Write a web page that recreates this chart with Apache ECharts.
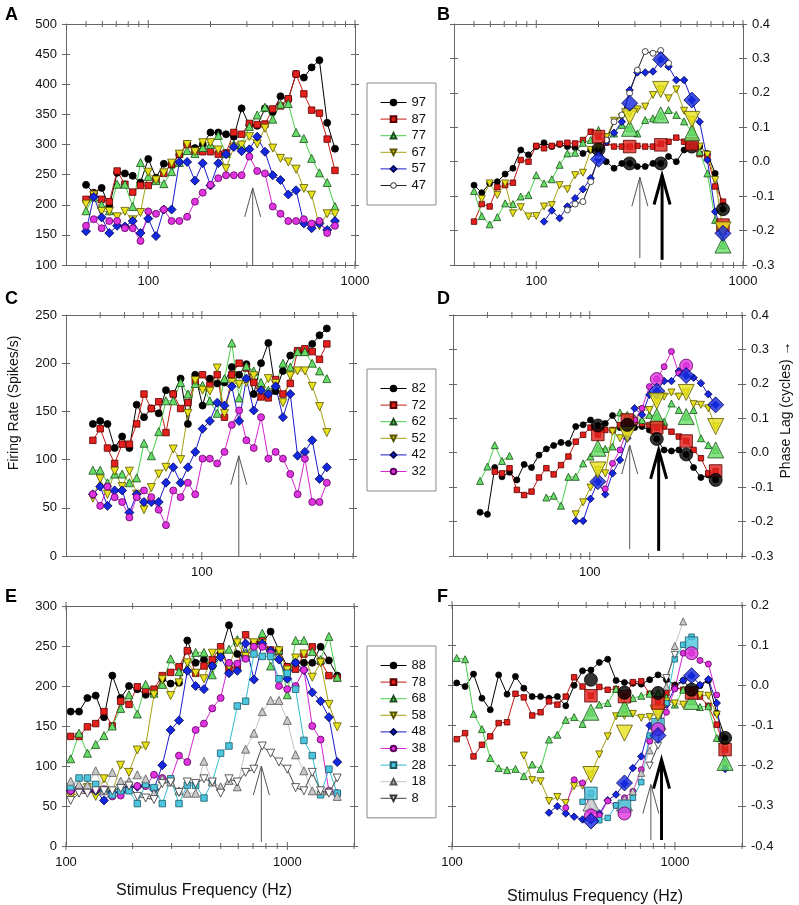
<!DOCTYPE html>
<html><head><meta charset="utf-8">
<script src="https://cdn.jsdelivr.net/npm/echarts@6/dist/echarts.min.js"></script>
<style>html,body{margin:0;padding:0;background:#fff}#c{width:799px;height:905px}</style>
</head><body><div id="c"></div>
<script>
// ---------- frequencies (Hz) ----------
const freqAB = [50,54.5,59.5,64.8,70.7,77.1,84.1,91.7,100,109,118.9,129.7,141.4,154.2,168.2,183.4,200,218.1,237.8,259.4,282.8,308.4,336.4,366.8,400,436.2,475.7,518.8,565.7,616.9,672.7,733.6,800];
const freqCD = [27.5,30,32.7,35.6,38.9,42.4,46.2,50.4,55,60,65.4,71.3,77.8,84.8,92.5,100.9,110,120,130.8,142.7,155.6,169.6,185,201.8,220,239.9,261.6,285.3,311.1,339.3,370,403.5,440];
const freqEF = [105,114.5,124.9,136.2,148.5,161.9,176.6,192.6,210,229,249.7,272.3,297,323.9,353.2,385.2,420,458,499.5,544.7,594,647.8,706.4,770.4,840,916,998.9,1089.3,1188,1295.5,1412.8,1540.7,1680];
const bigAB = [200,282.8,400,565.7,800];
const bigCD = [110,155.6,220,311.1,440];
const bigEF = [420,594,840,1188,1680];
const N = null;

// ---------- Panel A: firing rate ----------
const rateA97 = [233,220,228,197,253,252,248,237,276,245,268,266,283,301,294,300,320,320,317,313,360,332,331,360,354,380,375,417,411,428,440,336,293];
const rateA87 = [209,218,209,205,256,234,221,232,232,241,252,267,284,300,288,288,288,284,286,320,317,335,333,334,359,364,376,417,384,357,352,309,257];
const rateA77 = [190,213,200,190,234,234,197,270,247,240,235,255,270,290,285,295,300,315,285,300,300,330,349,362,342,367,368,320,310,277,253,237,197];
const rateA67 = [201,216,189,189,180,189,175,187,254,241,253,269,284,300,288,303,303,291,260,296,299,313,301,327,294,277,271,259,227,216,165,185,185];
const rateA57 = [156,213,179,153,165,164,173,153,177,148,192,192,271,271,240,269,232,269,284,296,289,292,313,288,249,241,217,224,169,161,169,158,173];
const rateA47 = [165,176,161,173,173,161,161,140,189,185,192,173,173,180,205,220,233,244,249,249,249,280,256,252,197,185,173,173,176,169,173,153,165];

// ---------- Panel B: phase lag ----------
const phB97 = [-0.068,-0.09,-0.063,-0.058,-0.036,-0.019,0.034,0.02,0.044,0.055,0.044,0.05,0.044,0.041,0.024,0.034,0.034,0.0,-0.019,-0.005,-0.005,-0.014,-0.014,-0.005,-0.005,0.015,0.0,0.034,0.044,0.044,0.024,-0.034,-0.138];
const phB87 = [-0.174,-0.123,-0.13,-0.074,-0.068,-0.061,0.005,0.0,0.046,0.039,0.046,0.052,0.055,0.053,0.063,0.087,0.073,0.055,0.044,0.044,0.044,0.046,0.044,0.044,0.052,0.058,0.07,0.058,0.044,0.022,0.015,-0.072,-0.116];
const phB77 = [-0.085,-0.158,-0.182,-0.161,-0.121,-0.123,-0.101,-0.097,-0.039,-0.063,-0.051,-0.009,0.024,0.026,0.055,0.063,0.092,0.073,0.082,0.107,0.097,0.082,0.121,0.126,0.134,0.15,0.136,0.117,0.087,0.029,-0.034,-0.169,-0.242];
const phB67 = [N,-0.108,-0.063,-0.097,-0.063,-0.15,-0.132,-0.159,-0.158,-0.13,-0.126,-0.068,-0.08,-0.039,-0.032,0.034,0.044,0.071,0.119,0.129,0.14,0.152,0.16,0.194,0.21,0.184,0.21,0.148,0.121,0.044,0.02,-0.053,-0.198];
const phB57 = [N,N,N,N,N,N,N,N,N,-0.174,-0.142,-0.164,-0.13,-0.106,-0.08,-0.048,0.007,0.058,0.084,0.116,0.208,0.259,0.259,0.262,0.297,0.276,0.237,0.237,0.179,0.116,0.005,-0.145,-0.208];
const phB47 = [N,N,N,N,N,N,N,N,N,N,N,N,-0.14,-0.123,-0.116,-0.058,0.015,0.063,0.116,0.136,0.199,0.266,0.32,0.315,0.323,0.286,N,N,N,N,N,N,N];
const bigB97 = [0.036,-0.005,-0.005,0.044,-0.138];
const bigB87 = [0.073,0.044,0.049,0.052,-0.184];
const bigB77 = [N,0.097,0.136,0.084,-0.242];
const bigB67 = [N,0.131,0.21,0.123,-0.198];
const bigB57 = [0.007,0.17,0.297,0.179,-0.208];

// ---------- Panel C: firing rate ----------
const rateC82 = [137,140,137,112,124,112,157,144,153,148,172,168,184,137,188,156,184,179,180,196,188,199,168,200,221,171,192,208,212,212,220,229,236];
const rateC72 = [120,132,112,96,116,116,137,168,153,160,128,168,153,159,181,188,177,188,144,188,200,195,180,165,164,183,168,179,213,215,212,204,220];
const rateC62 = [89,89,76,85,85,76,81,117,104,129,161,161,180,168,179,177,161,148,184,221,164,197,192,180,172,178,200,196,212,212,200,192,184];
const rateC52 = [60,80,64,88,72,88,64,48,71,85,92,111,100,148,182,172,171,195,148,180,178,180,187,171,184,179,159,187,192,192,176,155,128];
const rateC42 = [64,72,52,68,68,45,64,56,56,56,76,92,76,92,108,132,140,159,156,176,140,184,151,172,168,176,144,168,104,108,120,80,92];
const rateC32 = [64,52,72,61,56,40,61,68,61,48,32,68,61,76,64,101,101,96,108,136,151,120,112,144,101,108,101,85,64,101,56,56,76];

// ---------- Panel D: phase lag ----------
const phD82 = [-0.173,-0.179,-0.043,-0.07,-0.057,-0.079,-0.034,-0.043,-0.007,0.011,0.021,0.03,0.027,0.076,0.081,0.095,0.079,0.085,0.108,0.073,0.081,0.073,0.076,0.066,0.04,0.008,0.005,0.008,-0.005,-0.043,-0.072,-0.065,-0.079];
const phD72 = [N,N,-0.055,-0.06,-0.045,-0.108,-0.123,-0.113,-0.072,-0.045,-0.063,-0.036,-0.011,0.032,0.052,0.073,0.053,0.066,0.066,0.08,0.095,0.09,0.085,0.08,0.073,0.076,0.061,0.047,0.034,0.008,-0.016,-0.06,-0.053];
const phD62 = [-0.082,-0.04,0.022,-0.024,-0.009,N,N,N,N,-0.13,-0.125,-0.154,-0.07,-0.07,-0.031,-0.011,0.013,0.011,0.018,0.117,0.11,0.1,0.095,0.11,0.105,0.09,0.143,0.124,0.105,0.124,0.042,0.022,0.008];
const phD52 = [N,N,N,N,N,N,N,N,N,N,N,N,N,-0.179,-0.144,-0.101,-0.05,-0.06,0.061,0.042,0.053,0.092,0.124,0.124,0.15,0.163,0.175,0.163,0.175,0.141,0.139,0.129,0.076];
const phD42 = [N,N,N,N,N,N,N,N,N,N,N,N,N,-0.198,-0.198,-0.134,-0.084,-0.121,-0.06,-0.021,0.042,0.129,0.11,0.168,0.179,0.208,0.208,0.237,0.224,0.218,0.202,0.17,0.139];
const phD32 = [N,N,N,N,N,N,N,N,N,N,N,N,N,N,N,N,N,-0.105,-0.031,0.008,0.069,0.095,0.129,0.192,0.214,0.25,0.294,0.231,0.253,N,N,N,N];
const bigD82 = [0.079,0.081,0.04,-0.005,-0.079];
const bigD72 = [0.053,0.095,0.073,0.034,-0.053];
const bigD62 = [0.013,N,0.105,0.105,0.008];
const bigD52 = [-0.05,0.053,0.15,0.175,0.076];
const bigD42 = [-0.084,N,0.179,0.224,0.139];
const bigD32 = [N,N,0.214,0.253,N];

// ---------- Panel E: firing rate ----------
const rateE88 = [168,168,185,188,161,213,185,200,196,189,191,209,203,204,257,229,233,225,241,276,240,237,254,253,268,245,224,229,229,229,249,232,213];
const rateE78 = [137,137,149,153,168,150,181,177,199,195,196,213,217,224,244,216,225,233,249,222,224,264,254,257,245,243,224,221,240,249,231,213,210];
const rateE68 = [109,141,116,127,138,150,172,189,165,202,191,202,234,218,222,242,242,214,241,246,258,241,254,266,225,245,189,257,257,243,233,262,211];
const rateE58 = [62,67,73,62,84,67,101,92,120,125,189,208,188,204,229,216,209,241,241,224,254,237,254,253,241,244,220,235,240,211,229,177,149];
const rateE48 = [69,73,69,69,57,67,67,73,74,76,71,101,145,157,219,200,196,225,236,216,219,253,208,253,244,233,209,229,220,192,181,161,105];
const rateE38 = [69,71,69,71,71,62,63,71,75,75,89,85,83,113,105,145,153,172,185,229,228,234,249,249,241,200,196,200,220,150,133,69,66];
const rateE28 = [74,85,85,77,69,64,69,69,53,77,73,53,84,53,76,76,60,80,116,125,175,181,240,237,237,209,216,196,132,113,64,96,66];
const rateE18 = [81,77,76,94,69,92,81,81,89,84,66,84,80,69,66,66,106,80,74,82,74,121,141,168,182,182,157,114,94,69,69,69,62];
const rateE8  = [57,66,66,69,69,69,72,75,62,60,58,78,80,67,80,78,84,80,66,84,80,92,96,125,116,105,96,73,69,92,69,66,85];

// ---------- Panel F: phase lag ----------
const phF88 = [0.006,-0.003,0.028,-0.032,-0.061,0.026,-0.022,0.022,-0.007,-0.028,-0.028,-0.032,-0.028,-0.051,0.0,0.036,0.038,0.057,0.065,0.012,0.007,0.005,0.003,0.014,0.026,0.014,0.001,0.012,-0.011,-0.001,0.012,-0.069,-0.131];
const phF78 = [-0.134,-0.119,-0.177,-0.148,-0.127,-0.094,-0.092,-0.021,-0.03,-0.075,-0.067,-0.04,-0.048,-0.028,0.02,-0.003,-0.026,-0.004,-0.011,-0.009,-0.028,0.008,0.01,-0.021,-0.044,-0.02,-0.005,-0.011,-0.019,-0.028,-0.051,-0.098,-0.16];
const phF68 = [0.068,0.065,-0.071,-0.109,-0.181,-0.206,-0.211,-0.208,-0.226,-0.197,-0.208,-0.135,-0.123,-0.086,-0.079,-0.096,-0.067,-0.048,-0.044,-0.009,-0.057,-0.032,-0.026,-0.021,-0.019,-0.03,-0.048,-0.011,-0.04,-0.054,-0.052,-0.131,-0.192];
const phF58 = [N,N,N,N,N,N,N,N,-0.175,-0.236,-0.239,-0.288,-0.278,-0.293,-0.251,-0.25,-0.222,-0.172,-0.127,-0.077,-0.076,-0.071,-0.081,-0.079,-0.069,-0.04,-0.045,-0.048,-0.026,-0.024,-0.026,-0.073,-0.15];
const phF48 = [N,N,N,N,N,N,N,N,N,N,N,-0.317,-0.301,-0.319,-0.327,-0.334,-0.336,-0.319,-0.286,-0.272,-0.245,-0.206,-0.177,-0.1,-0.092,-0.048,-0.007,0.012,0.024,0.001,0.015,-0.044,-0.208];
const phF38 = [N,N,N,N,N,N,N,N,N,N,N,N,N,-0.305,-0.235,-0.243,-0.313,-0.324,-0.288,-0.299,-0.28,-0.264,-0.21,-0.139,-0.109,-0.067,-0.009,0.08,0.08,0.062,0.053,-0.024,N];
const phF28 = [N,N,N,N,N,N,N,N,N,N,N,N,N,N,N,-0.29,-0.269,-0.336,-0.33,-0.299,-0.301,-0.28,-0.241,-0.125,-0.098,-0.044,0.065,0.101,0.121,N,N,N,N];
const phF18 = [N,N,N,N,N,N,N,N,N,N,N,N,N,N,N,N,N,N,N,N,-0.3,-0.264,-0.218,-0.162,-0.106,-0.003,0.098,0.159,N,N,N,N,N];
const phF8  = [N,N,N,N,N,N,N,N,N,N,N,N,N,N,N,N,N,N,N,N,N,N,N,-0.2,-0.15,0.018,0.076,N,N,N,N,N,N];
const bigF88 = [0.014,-0.018,-0.019,-0.011,-0.131];
const bigF78 = [-0.026,-0.028,-0.044,-0.019,-0.16];
const bigF68 = [-0.067,-0.057,N,-0.04,-0.192];
const bigF58 = [-0.222,-0.119,-0.069,N,N];
const bigF48 = [-0.338,-0.243,-0.125,0.024,N];
const bigF38 = [-0.324,-0.319,-0.109,0.08,N];
const bigF28 = [-0.269,-0.301,-0.098,0.105,N];
const bigF18 = [-0.293,-0.293,-0.09,N,N];

// ---------- arrows: [freq, base, tip, lineWidth] ----------
const arrowsA = [[320,100,228,1]];
const arrowsB = [[317,-0.28,-0.045,1],[406,-0.285,-0.04,3]];
const arrowsC = [[155,0,104,1]];
const arrowsD = [[160,-0.28,0.022,1],[225,-0.285,0.008,3]];
const arrowsE = [[763,5,100,1]];
const arrowsF = [[780,-0.385,-0.247,1],[871,-0.385,-0.185,3]];

// ---------- tick labels / tick positions ----------
const ticksAB = [50,60,70,80,90,100,200,300,400,500,600,700,800,900,1000];
const ticksCD = [30,40,50,60,70,80,90,100,200,300,400,500,600];
const ticksEF = [100,200,300,400,500,600,700,800,900,1000,2000];
const legendA = ['97','87','77','67','57','47'];
const legendC = ['82','72','62','52','42','32'];
const legendE = ['88','78','68','58','48','38','28','18','8'];

const FONT = '"Liberation Sans", Arial, Helvetica, sans-serif';
const STY = {
  black:  {fill:'#000000', border:'#000000', line:'#000000', symbol:'circle'},
  red:    {fill:'#e3201b', border:'#5a0000', line:'#c41a14', symbol:'rect'},
  green:  {fill:'#66dd66', border:'#1c4d1c', line:'#48d048', symbol:'triangle'},
  yellow: {fill:'#e8e21c', border:'#5a5600', line:'#a8a014', symbol:'triangle', rotate:180},
  blue:   {fill:'#1428e0', border:'#000050', line:'#1a1acc', symbol:'diamond'},
  magenta:{fill:'#e034e0', border:'#600060', line:'#d424d4', symbol:'circle'},
  white:  {fill:'#ffffff', border:'#222222', line:'#222222', symbol:'circle'},
  cyan:   {fill:'#4cc6de', border:'#1c5a68', line:'#30bcd0', symbol:'rect'},
  gray:   {fill:'#c8c8c8', border:'#555555', line:'#c4c4c4', symbol:'triangle'},
  wdown:  {fill:'#ffffff', border:'#333333', line:'#444444', symbol:'triangle', rotate:180}
};
const SIZES = {
  small:{circle:7, rect:6.5, triangle:8, diamond:9},
  tiny:{circle:6, rect:5.5, triangle:7, diamond:7.5},
  big:{circle:13, rect:12.5, triangle:16, diamond:16}
};

const series = [];
function addLine(name, g, xs, ys, st, kind) {
  series.push({
    name, type:'line', xAxisIndex:2*g, yAxisIndex:4*g,
    data: xs.map((x,i)=>[x, ys[i]==null ? '-' : ys[i]]),
    symbol: st.symbol, symbolRotate: st.rotate||0, symbolSize: SIZES[kind][st.symbol],
    showSymbol:true, showAllSymbol:true, connectNulls:false,
    lineStyle:{color:st.line, width:1},
    itemStyle:{color:st.fill, borderColor:st.border, borderWidth:0.8},
    emphasis:{disabled:true}, z:3, silent:true
  });
}
function addBig(name, g, xs, ys, st) {
  series.push({
    name, type:'scatter', xAxisIndex:2*g, yAxisIndex:4*g,
    data: xs.map((x,i)=> ys[i]==null ? null : [x, ys[i]]).filter(d=>d),
    symbol: st.symbol, symbolRotate: st.rotate||0, symbolSize: SIZES.big[st.symbol],
    itemStyle:{color:st.fill, borderColor:st.border, borderWidth:1},
    emphasis:{disabled:true}, z:5, silent:true
  });
}
function addArrows(g, rows) {
  series.push({
    type:'custom', xAxisIndex:2*g, yAxisIndex:4*g, data: rows, z:6, silent:true, clip:false,
    renderItem(params, api) {
      const b = api.coord([api.value(0), api.value(1)]);
      const t = api.coord([api.value(0), api.value(2)]);
      const w = api.value(3);
      const col = w > 1 ? '#000' : '#555';
      return {type:'group', children:[
        {type:'line', shape:{x1:b[0], y1:b[1], x2:t[0], y2:t[1]}, style:{stroke:col, lineWidth:w}},
        {type:'polyline', shape:{points:[[t[0]-8,t[1]+29],[t[0],t[1]],[t[0]+8,t[1]+29]]}, style:{stroke:col, lineWidth:w, fill:null}}
      ]};
    }
  });
}
function addTicks(g, ticks, yRef) {
  series.push({
    type:'custom', xAxisIndex:2*g, yAxisIndex:4*g, data: ticks.map(v=>[v, yRef]), z:2, silent:true, clip:false,
    renderItem(params, api) {
      const cs = params.coordSys;
      const v = api.value(0);
      const x = api.coord([v, api.value(1)])[0];
      const major = Math.abs(Math.log10(v) - Math.round(Math.log10(v))) < 1e-6;
      const L = major ? 4 : 3;
      const yb = cs.y + cs.height, yt = cs.y;
      const st = {stroke:'#666', lineWidth:1};
      return {type:'group', children:[
        {type:'line', shape:{x1:x, y1:yb-L, x2:x, y2:yb+L}, style:st},
        {type:'line', shape:{x1:x, y1:yt-L, x2:x, y2:yt+L}, style:st}
      ]};
    }
  });
}

// Panel A
addLine('97',0,freqAB,rateA97,STY.black,'small');
addLine('87',0,freqAB,rateA87,STY.red,'small');
addLine('77',0,freqAB,rateA77,STY.green,'small');
addLine('67',0,freqAB,rateA67,STY.yellow,'small');
addLine('57',0,freqAB,rateA57,STY.blue,'small');
addLine('47',0,freqAB,rateA47,STY.magenta,'small');
// Panel B
addLine('97',1,freqAB,phB97,STY.black,'tiny');
addLine('87',1,freqAB,phB87,STY.red,'tiny');
addLine('77',1,freqAB,phB77,STY.green,'tiny');
addLine('67',1,freqAB,phB67,STY.yellow,'tiny');
addLine('57',1,freqAB,phB57,STY.blue,'tiny');
addLine('47',1,freqAB,phB47,STY.white,'tiny');
addBig('B97',1,bigAB,bigB97,STY.black);
addBig('B87',1,bigAB,bigB87,STY.red);
addBig('B77',1,bigAB,bigB77,STY.green);
addBig('B67',1,bigAB,bigB67,STY.yellow);
addBig('B57',1,bigAB,bigB57,STY.blue);
// Panel C
addLine('82',2,freqCD,rateC82,STY.black,'small');
addLine('72',2,freqCD,rateC72,STY.red,'small');
addLine('62',2,freqCD,rateC62,STY.green,'small');
addLine('52',2,freqCD,rateC52,STY.yellow,'small');
addLine('42',2,freqCD,rateC42,STY.blue,'small');
addLine('32',2,freqCD,rateC32,STY.magenta,'small');
// Panel D
addLine('82',3,freqCD,phD82,STY.black,'tiny');
addLine('72',3,freqCD,phD72,STY.red,'tiny');
addLine('62',3,freqCD,phD62,STY.green,'tiny');
addLine('52',3,freqCD,phD52,STY.yellow,'tiny');
addLine('42',3,freqCD,phD42,STY.blue,'tiny');
addLine('32',3,freqCD,phD32,STY.magenta,'tiny');
addBig('D32',3,bigCD,bigD32,STY.magenta);
addBig('D42',3,bigCD,bigD42,STY.blue);
addBig('D52',3,bigCD,bigD52,STY.yellow);
addBig('D62',3,bigCD,bigD62,STY.green);
addBig('D72',3,bigCD,bigD72,STY.red);
addBig('D82',3,bigCD,bigD82,STY.black);
// Panel E
addLine('88',4,freqEF,rateE88,STY.black,'small');
addLine('78',4,freqEF,rateE78,STY.red,'small');
addLine('68',4,freqEF,rateE68,STY.green,'small');
addLine('58',4,freqEF,rateE58,STY.yellow,'small');
addLine('48',4,freqEF,rateE48,STY.blue,'small');
addLine('38',4,freqEF,rateE38,STY.magenta,'small');
addLine('28',4,freqEF,rateE28,STY.cyan,'small');
addLine('18',4,freqEF,rateE18,STY.gray,'small');
addLine('8',4,freqEF,rateE8,STY.wdown,'small');
// Panel F
addLine('88',5,freqEF,phF88,STY.black,'tiny');
addLine('78',5,freqEF,phF78,STY.red,'tiny');
addLine('68',5,freqEF,phF68,STY.green,'tiny');
addLine('58',5,freqEF,phF58,STY.yellow,'tiny');
addLine('48',5,freqEF,phF48,STY.blue,'tiny');
addLine('38',5,freqEF,phF38,STY.magenta,'tiny');
addLine('28',5,freqEF,phF28,STY.cyan,'tiny');
addLine('18',5,freqEF,phF18,STY.gray,'tiny');
addLine('8',5,freqEF,phF8,STY.wdown,'tiny');
addBig('F18',5,bigEF,bigF18,STY.gray);
addBig('F28',5,bigEF,bigF28,STY.cyan);
addBig('F38',5,bigEF,bigF38,STY.magenta);
addBig('F48',5,bigEF,bigF48,STY.blue);
addBig('F58',5,bigEF,bigF58,STY.yellow);
addBig('F68',5,bigEF,bigF68,STY.green);
addBig('F78',5,bigEF,bigF78,STY.red);
addBig('F88',5,bigEF,bigF88,STY.black);

addArrows(0,arrowsA); addArrows(1,arrowsB); addArrows(2,arrowsC);
addArrows(3,arrowsD); addArrows(4,arrowsE); addArrows(5,arrowsF);
addTicks(0,ticksAB,300); addTicks(1,ticksAB,0); addTicks(2,ticksCD,100);
addTicks(3,ticksCD,0); addTicks(4,ticksEF,100); addTicks(5,ticksEF,0);

const grids = [
  {left:66, top:24, width:289, height:241},
  {left:454, top:24, width:289, height:241},
  {left:66, top:315, width:287, height:241},
  {left:453, top:315, width:289, height:241},
  {left:66, top:606, width:288, height:240},
  {left:452, top:605, width:290, height:241}
];
const axDef = [
  {xmin:40, xmax:1000, ymin:100, ymax:500, yint:50, side:'left', dec:0},
  {xmin:40, xmax:1000, ymin:-0.3, ymax:0.4, yint:0.1, side:'right', dec:1},
  {xmin:20, xmax:600, ymin:0, ymax:250, yint:50, side:'left', dec:0},
  {xmin:20, xmax:600, ymin:-0.3, ymax:0.4, yint:0.1, side:'right', dec:1},
  {xmin:100, xmax:2000, ymin:0, ymax:300, yint:50, side:'left', dec:0},
  {xmin:100, xmax:2000, ymin:-0.4, ymax:0.2, yint:0.1, side:'right', dec:1}
];
const AX = '#666';
const xAxis = [], yAxis = [];
axDef.forEach((d,g)=>{
  xAxis.push({gridIndex:g, type:'log', logBase:10, min:d.xmin, max:d.xmax, position:'bottom',
    axisLine:{show:true, onZero:false, lineStyle:{color:AX, width:1}}, axisTick:{show:false}, splitLine:{show:false},
    axisLabel:{fontSize:13, color:'#111', fontFamily:FONT, margin:10,
      formatter:(v)=>{const l=Math.log10(v); return Math.abs(l-Math.round(l))<1e-6 ? String(Math.round(v)) : '';}}});
  xAxis.push({gridIndex:g, type:'log', logBase:10, min:d.xmin, max:d.xmax, position:'top',
    axisLine:{show:true, onZero:false, lineStyle:{color:AX, width:1}}, axisTick:{show:false}, axisLabel:{show:false}, splitLine:{show:false}});
});
axDef.forEach((d,g)=>{
  const other = d.side==='left' ? 'right' : 'left';
  const base = {gridIndex:g, type:'value', min:d.ymin, max:d.ymax, interval:d.yint, splitLine:{show:false}};
  yAxis.push(Object.assign({}, base, {position:d.side,
    axisLine:{show:true, onZero:false, lineStyle:{color:AX}}, axisTick:{show:true, inside:false, length:4, lineStyle:{color:AX}},
    axisLabel:{fontSize:13, color:'#111', fontFamily:FONT, margin:9,
      formatter:(v)=> d.dec ? (Math.abs(v)<1e-9?0:v).toFixed(1) : String(Math.round(v))}}));
  yAxis.push(Object.assign({}, base, {position:d.side, axisLine:{show:false, onZero:false},
    axisTick:{show:true, inside:true, length:4, lineStyle:{color:AX}}, axisLabel:{show:false}}));
  yAxis.push(Object.assign({}, base, {position:other,
    axisLine:{show:true, onZero:false, lineStyle:{color:AX}}, axisTick:{show:true, inside:true, length:4, lineStyle:{color:AX}}, axisLabel:{show:false}}));
  yAxis.push(Object.assign({}, base, {position:other, axisLine:{show:false, onZero:false},
    axisTick:{show:true, inside:false, length:4, lineStyle:{color:AX}}, axisLabel:{show:false}}));
});

const legBase = {orient:'vertical', left:367, padding:[13,10,13,13], itemGap:3.6, itemWidth:26, itemHeight:7,
  borderColor:'#888', borderWidth:1, selectedMode:false, lineStyle:{width:1},
  textStyle:{fontSize:13, color:'#111', fontFamily:FONT}};
const legend = [
  Object.assign({}, legBase, {top:83, data: legendA.map(n=> n==='47' ? {name:n, itemStyle:{color:'#fff', borderColor:'#222', borderWidth:1}, lineStyle:{color:'#222', width:1}} : n)}),
  Object.assign({}, legBase, {top:369, data: legendC}),
  Object.assign({}, legBase, {top:646, data: legendE})
];

const letter = (t,x,y)=>({type:'text', left:x, top:y, style:{text:t, fill:'#000', font:'bold 18px '+FONT}});
const graphic = [
  letter('A',5,6), letter('B',437,6), letter('C',5,290), letter('D',437,290), letter('E',5,588), letter('F',437,588),
  {type:'text', x:14, y:403, rotation:Math.PI/2, style:{text:'Firing Rate (Spikes/s)', fill:'#111', font:'14px '+FONT, align:'center', verticalAlign:'middle', textAlign:'center', textVerticalAlign:'middle'}},
  {type:'text', x:786, y:410, rotation:Math.PI/2, style:{text:'Phase Lag (cycles) \u2192', fill:'#111', font:'14px '+FONT, align:'center', verticalAlign:'middle', textAlign:'center', textVerticalAlign:'middle'}},
  {type:'text', x:204, y:891, style:{text:'Stimulus Frequency (Hz)', fill:'#111', font:'16px '+FONT, align:'center', verticalAlign:'middle', textAlign:'center', textVerticalAlign:'middle'}},
  {type:'text', x:595, y:897, style:{text:'Stimulus Frequency (Hz)', fill:'#111', font:'16px '+FONT, align:'center', verticalAlign:'middle', textAlign:'center', textVerticalAlign:'middle'}}
];

const chart = echarts.init(document.getElementById('c'), null, {renderer:'canvas'});
chart.setOption({animation:false, backgroundColor:'#fff', textStyle:{fontFamily:FONT},
  grid: grids, xAxis, yAxis, legend, graphic, series});
</script></body></html>
